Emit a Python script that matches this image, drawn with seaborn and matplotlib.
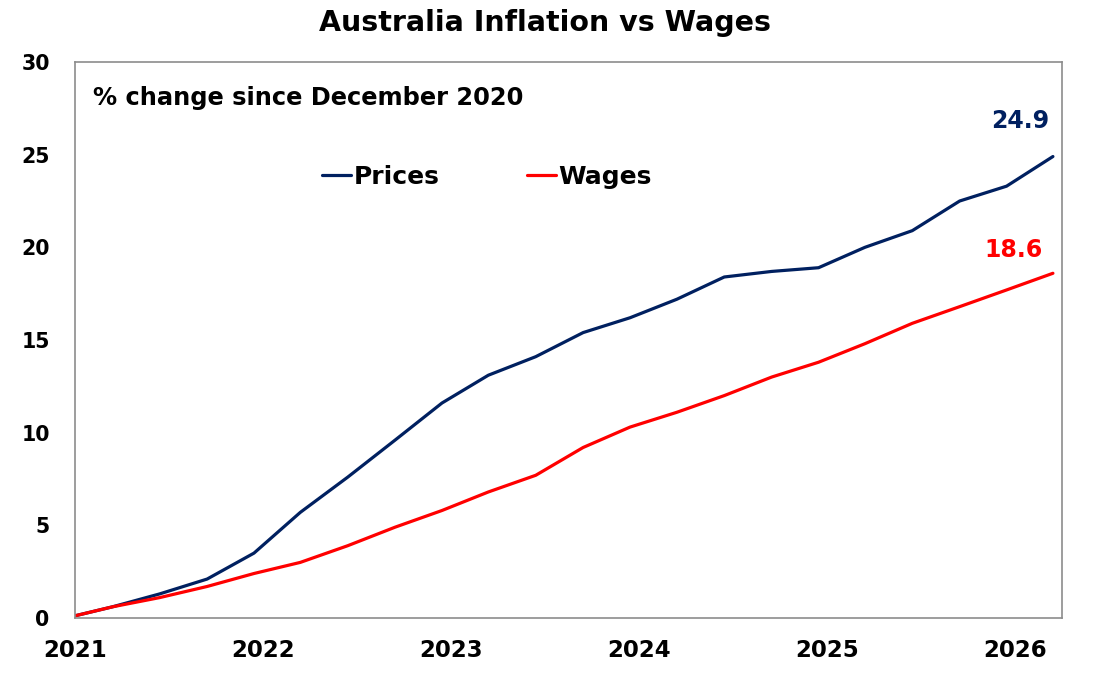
import pandas as pd
import numpy as np
import seaborn as sns
import matplotlib.pyplot as plt
import matplotlib.dates as mdates

# quarterly data, % change since December 2020
quarters = ["2020-12", "2021-03", "2021-06", "2021-09", "2021-12",
            "2022-03", "2022-06", "2022-09", "2022-12",
            "2023-03", "2023-06", "2023-09", "2023-12",
            "2024-03", "2024-06", "2024-09", "2024-12",
            "2025-03", "2025-06", "2025-09", "2025-12", "2026-03"]
prices = [0.0, 0.6, 1.3, 2.1, 3.5, 5.7, 7.6, 9.6, 11.6, 13.1, 14.1, 15.4, 16.2,
          17.2, 18.4, 18.7, 18.9, 20.0, 20.9, 22.5, 23.3, 24.9]
wages = [0.0, 0.6, 1.1, 1.7, 2.4, 3.0, 3.9, 4.9, 5.8, 6.8, 7.7, 9.2, 10.3,
         11.1, 12.0, 13.0, 13.8, 14.8, 15.9, 16.8, 17.7, 18.6]
year_ticks = [2021, 2022, 2023, 2024, 2025, 2026]

navy = "#002060"
red = "#FF0000"

# plot at mid-month
dates = pd.to_datetime(quarters) + pd.Timedelta(days=14)
df = pd.DataFrame({"date": list(dates) * 2,
                   "value": prices + wages,
                   "series": ["Prices"] * len(prices) + ["Wages"] * len(wages)})

sns.set_style("white")
plt.rcParams['font.family'] = ['DejaVu Sans']
plt.rcParams['font.weight'] = 'bold'
plt.rcParams['text.color'] = 'black'

fig = plt.figure(figsize=(10.97, 6.8), dpi=100)
ax = fig.add_axes([0.0681, 0.0912, 0.8997, 0.8176])

sns.lineplot(data=df, x="date", y="value", hue="series",
             palette={"Prices": navy, "Wages": red}, linewidth=2.3, ax=ax)

ax.set_xlim(pd.Timestamp("2021-01-01"), pd.Timestamp("2026-04-01"))
ax.set_ylim(0, 30)
ax.set_yticks(range(0, 31, 5))
ax.set_xticks([pd.Timestamp(f"{y}-01-01") for y in year_ticks])
ax.xaxis.set_major_formatter(mdates.DateFormatter("%Y"))
ax.set_xlabel("")
ax.set_ylabel("")

for s in ax.spines.values():
    s.set_color("#8c8c8c")
    s.set_linewidth(1.2)
ax.tick_params(axis="both", direction="out", width=1.2, color="#8c8c8c",
               labelcolor="black")
ax.tick_params(axis="x", length=6, pad=9, labelsize=16.5)
ax.tick_params(axis="y", length=8, pad=10, labelsize=14.8)
for lab in ax.get_xticklabels() + ax.get_yticklabels():
    lab.set_fontweight("bold")

fig.text(0.497, 0.966, "Australia Inflation vs Wages", ha="center", va="center",
         fontsize=20.5, fontweight="bold")
ax.text(0.019, 0.935, "% change since December 2020", transform=ax.transAxes,
        ha="left", va="center", fontsize=17.4, fontweight="bold")

ax.text(pd.Timestamp(quarters[-1]) - pd.Timedelta(days=50), prices[-1] + 1.9,
        f"{prices[-1]:.1f}", color=navy, ha="center", va="center",
        fontsize=17, fontweight="bold")
ax.text(pd.Timestamp(quarters[-1]) - pd.Timedelta(days=63), wages[-1] + 1.25,
        f"{wages[-1]:.1f}", color=red, ha="center", va="center",
        fontsize=17, fontweight="bold")

leg = ax.legend(loc="center left", bbox_to_anchor=(0.228, 0.794), ncol=2,
                frameon=False, fontsize=18, handlelength=1.15, handletextpad=0.1,
                columnspacing=3.5)
for t in leg.get_texts():
    t.set_fontweight("bold")
    t.set_color("black")
for h in leg.get_lines():
    h.set_linewidth(2.3)

fig.savefig("out.png", dpi=100)
